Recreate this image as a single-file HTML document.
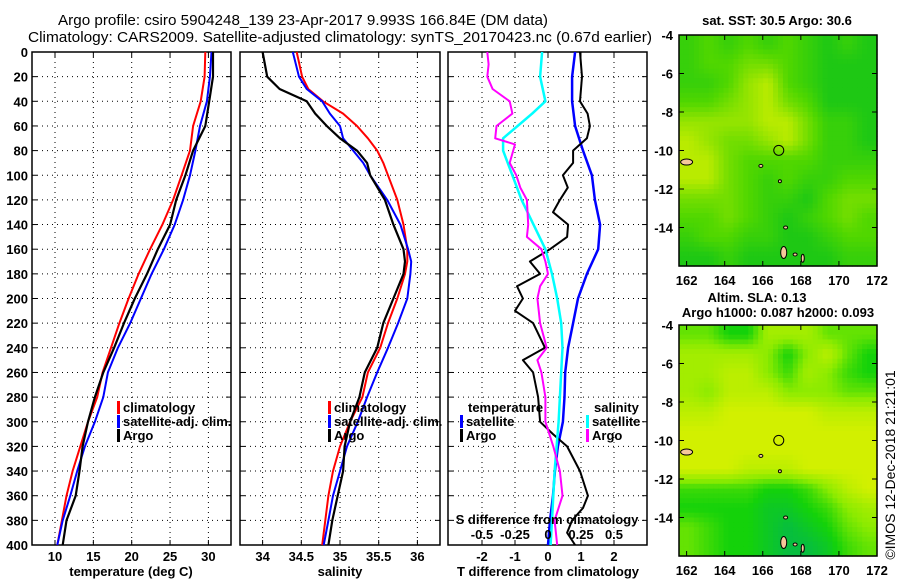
<!DOCTYPE html>
<html><head><meta charset="utf-8">
<style>
html,body{margin:0;padding:0;background:#fff;}
svg{display:block;font-family:"Liberation Sans",Arial,sans-serif;}
.t{font-size:13px;font-weight:bold;fill:#000;}
.ttl{font-size:15px;fill:#000;}
</style></head>
<body>
<svg id="fig" width="900" height="580" viewBox="0 0 900 580" xmlns="http://www.w3.org/2000/svg">
<text class="ttl" x="58" y="25" textLength="490" lengthAdjust="spacingAndGlyphs">Argo profile: csiro 5904248_139 23-Apr-2017 9.993S 166.84E (DM data)</text>
<text class="ttl" x="28" y="42" textLength="624" lengthAdjust="spacingAndGlyphs">Climatology: CARS2009. Satellite-adjusted climatology: synTS_20170423.nc (0.67d earlier)</text>
</svg>
<script>
// ---------- data ----------
const depthsA = [0,20,40,60,80,100,120,140,160,180,200,220,240,260,280,300,320,340,360,380,400];
const tempClim = [29.6,29.5,29.0,28.0,27.6,26.5,25.4,24.0,22.4,20.9,19.6,18.4,17.3,16.2,15.5,14.3,13.3,12.3,11.5,10.9,10.3];
const tempSat = [30.4,30.2,29.8,28.9,28.3,27.6,26.7,25.6,24.2,22.6,21.2,19.8,18.2,16.9,16.3,15.2,13.9,12.9,12.0,11.0,10.3];
const tempArgo = [30.6,30.6,30.1,29.6,28.0,27.0,25.8,25.0,23.4,22.0,20.4,19.0,17.7,16.3,15.2,14.3,13.6,13.2,12.7,11.5,11.0];

const depthsS = [0,20,30,40,50,60,70,80,90,100,120,140,160,170,180,200,220,240,260,280,300,320,340,360,380,400];
const salClim = [34.44,34.51,34.59,34.78,35.04,35.22,35.36,35.48,35.56,35.62,35.74,35.82,35.87,35.87,35.84,35.74,35.62,35.52,35.36,35.29,35.13,35.0,34.91,34.85,34.81,34.77];
const salSat = [34.39,34.47,34.57,34.77,34.87,35.0,35.04,35.17,35.3,35.39,35.61,35.78,35.88,35.92,35.91,35.87,35.75,35.62,35.48,35.35,35.23,35.09,35.0,34.91,34.85,34.79];
const salArgo = [34.0,34.06,34.22,34.57,34.68,34.83,35.0,35.22,35.35,35.39,35.58,35.69,35.82,35.84,35.82,35.69,35.56,35.48,35.32,35.25,35.13,35.06,35.04,34.97,34.9,34.85];

const tDiffSat = [0.82,0.73,0.73,0.82,1.06,1.33,1.42,1.58,1.52,1.18,0.91,0.76,0.61,0.52,0.5,0.45,0.3,0.21,0.15,0.06,0.0];
const depthsTA = [0,20,40,50,60,70,80,90,100,110,120,130,140,150,160,170,180,190,200,210,220,240,250,260,280,300,310,320,340,360,370,380,390,400];
const tDiffArgo = [0.97,1.03,0.97,1.2,1.27,1.18,0.76,0.76,0.45,0.6,0.36,0.15,0.61,0.58,0.06,-0.55,-0.24,-0.94,-0.76,-1.0,-0.45,-0.09,-0.76,-0.45,-0.3,-0.24,0.15,0.58,0.97,1.21,1.06,0.73,0.58,0.82];
const depthsSS = [0,20,40,50,60,70,80,100,120,140,160,180,200,220,240,260,300,340,380,400];
const sDiffSat = [-0.045,-0.06,-0.02,-0.12,-0.23,-0.34,-0.34,-0.27,-0.2,-0.11,-0.02,0.03,0.07,0.1,0.11,0.1,0.08,0.05,0.03,0.02];
const depthsSA = [0,10,20,30,40,50,60,70,75,90,100,110,120,140,150,160,170,180,190,200,220,240,250,260,280,300,320,340,360,380,400];
const sDiffArgo = [-0.46,-0.45,-0.46,-0.42,-0.29,-0.27,-0.39,-0.4,-0.25,-0.29,-0.24,-0.21,-0.16,-0.15,-0.16,-0.05,-0.02,0,-0.06,-0.08,-0.06,-0.01,-0.08,-0.05,-0.02,-0.02,0.04,0.09,0.11,0.05,0.07];

const depthTicks = [0,20,40,60,80,100,120,140,160,180,200,220,240,260,280,300,320,340,360,380,400];
const tempTicks = [10,15,20,25,30];
const salTicks = [34,34.5,35,35.5,36];
const salTickLabels = ["34","34.5","35","35.5","36"];
const tDiffTicks = [-2,-1,0,1,2];
const sDiffTicks = [-0.5,-0.25,0,0.25,0.5];
const sDiffTickLabels = ["-0.5","-0.25","0","0.25","0.5"];

const latTicks = [-4,-6,-8,-10,-12,-14];
const lonTicks = [162,164,166,168,170,172];
const sstGrid = [
[.4,.5,.4,.5,.4,.5,.4,.3,.4,.3],
[.4,.5,.5,.6,.6,.5,.4,.3,.3,.3],
[.4,.4,.5,.7,.8,.5,.4,.3,.3,.3],
[.5,.5,.6,.7,.8,.6,.5,.3,.3,.3],
[.7,.7,.7,.7,.8,.8,.6,.4,.4,.3],
[.8,.7,.6,.6,.7,.8,.6,.4,.4,.3],
[.8,.8,.6,.5,.5,.5,.5,.4,.4,.4],
[.8,.8,.6,.5,.4,.5,.4,.4,.5,.5],
[.6,.6,.6,.5,.4,.4,.3,.5,.6,.6],
[.5,.5,.6,.5,.4,.3,.4,.5,.6,.5],
[.4,.5,.5,.4,.4,.3,.3,.4,.5,.5],
[.3,.3,.4,.3,.3,.3,.3,.3,.4,.4]];
const slaGrid = [
[.5,.5,.3,.3,.7,.7,.7,.5,.5,.5],
[.7,.7,.7,.7,.6,.3,.6,.8,.5,.3],
[.7,.7,.8,.8,.6,.4,.7,.6,.4,.3],
[.7,.6,.8,.8,.8,.6,.6,.6,.5,.5],
[.8,.8,.9,.9,.9,.9,.9,.8,.8,.8],
[.9,.9,.9,.9,.9,.9,.9,.9,.9,.9],
[.9,.9,.9,.9,.9,.9,.9,.9,.9,.9],
[.9,.9,.9,.8,.8,.8,.9,.9,.9,.9],
[.4,.4,.4,.4,.3,.3,.4,.6,.8,.9],
[.3,.3,.3,.3,.2,.2,.3,.4,.6,.7],
[.5,.4,.3,.3,.2,.1,.2,.3,.5,.6],
[.5,.4,.3,.3,.2,.1,.1,.2,.4,.5]];
const argoLon = 166.84, argoLat = -9.993;

// ---------- helpers ----------
const NS = "http://www.w3.org/2000/svg";
const svg = document.getElementById('fig');
function mk(tag, attrs, parent){const e=document.createElementNS(NS,tag);for(const k in attrs)e.setAttribute(k,attrs[k]);(parent||svg).appendChild(e);return e;}
function txt(s,x,y,anchor,parent){const e=mk('text',{x:x,y:y,'text-anchor':anchor||'middle','class':'t'},parent);e.textContent=s;return e;}

const TOP=52, BOT=545;
const yD = d => TOP + d*(BOT-TOP)/400;

function panel(name, x0, x1, xs, ticks, labels, showY){
  const g = mk('g',{});
  
  
  depthTicks.forEach(d=>{
    if(d>0&&d<400){const l=mk('line',{x1:x0,x2:x1,y1:yD(d),y2:yD(d),stroke:'#000','stroke-width':1,'stroke-dasharray':'1,4'},g);
    
    }
    mk('line',{x1:x0,x2:x0+5,y1:yD(d),y2:yD(d),stroke:'#000'},g);
    mk('line',{x1:x1-5,x2:x1,y1:yD(d),y2:yD(d),stroke:'#000'},g);
    if(showY){const t=txt(String(d),28,yD(d)+5,'end',g);
      
      }
  });
  ticks.forEach((v,i)=>{
    const x=xs(v);
    const l=mk('line',{x1:x,x2:x,y1:TOP,y2:BOT,stroke:'#000','stroke-dasharray':'1,4'},g);
    
    
    mk('line',{x1:x,x2:x,y1:TOP,y2:TOP+5,stroke:'#000'},g);
    mk('line',{x1:x,x2:x,y1:BOT-5,y2:BOT,stroke:'#000'},g);
    const t=txt(labels[i],x,561,'middle',g);
    
    
  });
  const r=mk('rect',{x:x0,y:TOP,width:x1-x0,height:BOT-TOP,fill:'none',stroke:'#000','stroke-width':1.5},g);
  
  
  return g;
}
function line(vals, depths, xs, color, w, name, parent){
  const pts = vals.map((v,i)=>xs(v).toFixed(1)+','+yD(depths[i]).toFixed(1)).join(' ');
  const p=mk('polyline',{points:pts,fill:'none',stroke:color,'stroke-width':w,'stroke-linejoin':'round'},parent);
  
  
}
function legendEntry(x,y,color,label,parent){
  mk('rect',{x:x,y:y-11,width:3,height:13,fill:color},parent);
  const t=txt(label,x+6,y,'start',parent);
  
  
}

// ---------- panel 1: temperature ----------
const xT = v => 55 + (v-10)*7.67;
const p1 = panel('temperature-panel',32,231,xT,tempTicks,tempTicks.map(String),true);
line(tempClim, depthsA, xT, '#f00', 2, 'temp-climatology-line', p1);
line(tempSat, depthsA, xT, '#00f', 2, 'temp-satellite-line', p1);
line(tempArgo, depthsA, xT, '#000', 2.2, 'temp-argo-line', p1);
legendEntry(117,412,'#f00','climatology',p1);
legendEntry(117,426,'#00f','satellite-adj. clim.',p1);
legendEntry(117,440,'#000','Argo',p1);
{const t=txt('temperature (deg C)',131,576,'middle',p1);}

// ---------- panel 2: salinity ----------
const xS = v => 340 + (v-35)*77.4;
const p2 = panel('salinity-panel',240,440,xS,salTicks,salTickLabels,false);
line(salClim, depthsS, xS, '#f00', 2, 'sal-climatology-line', p2);
line(salSat, depthsS, xS, '#00f', 2, 'sal-satellite-line', p2);
line(salArgo, depthsS, xS, '#000', 2.2, 'sal-argo-line', p2);
legendEntry(328,412,'#f00','climatology',p2);
legendEntry(328,426,'#00f','satellite-adj. clim.',p2);
legendEntry(328,440,'#000','Argo',p2);
{const t=txt('salinity',340,576,'middle',p2);}

// ---------- panel 3: differences ----------
const xTD = v => 548 + v*33;
const xSD = v => 548 + v*132;
const p3 = panel('difference-panel',448,647,xTD,tDiffTicks,tDiffTicks.map(String),false);
line(tDiffSat, depthsA, xTD, '#00f', 2.5, 'tdiff-satellite-line', p3);
line(tDiffArgo, depthsTA, xTD, '#000', 2, 'tdiff-argo-line', p3);
line(sDiffSat, depthsSS, xSD, '#0ff', 2.5, 'sdiff-satellite-line', p3);
line(sDiffArgo, depthsSA, xSD, '#f0f', 2, 'sdiff-argo-line', p3);
{const t=txt('temperature',468,412,'start',p3);}
legendEntry(460,426,'#00f','satellite',p3);
legendEntry(460,440,'#000','Argo',p3);
{const t=txt('salinity',594,412,'start',p3);}
legendEntry(586,426,'#0ff','satellite',p3);
legendEntry(586,440,'#f0f','Argo',p3);
{const t=txt('S difference from climatology',547,524,'middle',p3);}
sDiffTicks.forEach((v,i)=>{const t=txt(sDiffTickLabels[i],xSD(v),539,'middle',p3);
  
  });
{const t=txt('T difference from climatology',548,576,'middle',p3);}

// ---------- maps ----------
function ramp(v, stops){
  for(let i=1;i<stops.length;i++){
    if(v<=stops[i][0]){const a=stops[i-1],b=stops[i];const f=(v-a[0])/(b[0]-a[0]);
      const c=[0,1,2].map(k=>Math.round(a[1][k]+(b[1][k]-a[1][k])*f));return 'rgb('+c.join(',')+')';}
  }
  const l=stops[stops.length-1][1];return 'rgb('+l.join(',')+')';
}
function sample(grid, fr, fc){
  // bilinear sampling of grid at fractional cell-centre coordinates (rendering only)
  const rows=grid.length, cols=grid[0].length;
  const r=Math.min(Math.max(fr-0.5,0),rows-1), c=Math.min(Math.max(fc-0.5,0),cols-1);
  const r0=Math.floor(r), c0=Math.floor(c), r1=Math.min(r0+1,rows-1), c1=Math.min(c0+1,cols-1);
  const dr=r-r0, dc=c-c0;
  return grid[r0][c0]*(1-dr)*(1-dc)+grid[r0][c1]*(1-dr)*dc+grid[r1][c0]*dr*(1-dc)+grid[r1][c1]*dr*dc;
}
const sstStops=[[0,[0,176,64]],[0.3,[30,200,20]],[0.5,[80,215,0]],[0.8,[185,235,0]],[1,[215,240,0]]];
const slaStops=[[0,[0,180,90]],[0.3,[20,210,10]],[0.6,[140,235,0]],[0.9,[210,240,0]],[1,[220,240,0]]];
function map(name, top, grid, stops, title1, title2){
  const L=679,R=877,B=top+231;
  const xl = lon => L + (lon-161.6)*(R-L)/10.4;
  const yl = lat => top + (-4-lat)*(B-top)/12;
  const g=mk('g',{});
  
  
  const rows=grid.length, cols=grid[0].length, SUB=4;
  const cw=(R-L)/(cols*SUB), ch=(B-top)/(rows*SUB);
  for(let r=0;r<rows*SUB;r++)for(let c=0;c<cols*SUB;c++){
    const v=sample(grid,(r+0.5)/SUB,(c+0.5)/SUB);
    const cell=mk('rect',{x:(L+c*cw).toFixed(2),y:(top+r*ch).toFixed(2),width:(cw+0.6).toFixed(2),height:(ch+0.6).toFixed(2),fill:ramp(v,stops)},g);
    
    
  }
  const isl=[[162.0,-10.6,6,3],[165.9,-10.8,2,1.5],[166.9,-11.6,1.5,1.5],[167.2,-14.0,2,1.5],[167.1,-15.3,3,6],[167.7,-15.4,2,1.5],[168.1,-15.6,1.5,4]];
  isl.forEach(a=>{const e=mk('ellipse',{cx:xl(a[0]),cy:yl(a[1]),rx:a[2],ry:a[3],fill:'#f5c89a',stroke:'#000','stroke-width':1},g);
    
    });
  const m=mk('circle',{cx:xl(argoLon),cy:yl(argoLat),r:5,fill:'none',stroke:'#000','stroke-width':1},g);
  
  
  mk('rect',{x:L,y:top,width:R-L,height:B-top,fill:'none',stroke:'#000','stroke-width':1.5},g);
  latTicks.forEach(v=>{const y=yl(v);mk('line',{x1:L,x2:L+5,y1:y,y2:y,stroke:'#000'},g);mk('line',{x1:R-5,x2:R,y1:y,y2:y,stroke:'#000'},g);
    const t=txt(String(v),673,y+5,'end',g);});
  lonTicks.forEach(v=>{const x=xl(v);mk('line',{x1:x,x2:x,y1:B-5,y2:B,stroke:'#000'},g);mk('line',{x1:x,x2:x,y1:top,y2:top+5,stroke:'#000'},g);
    const t=txt(String(v),x,B+19,'middle',g);});
  if(title1){const t=txt(title1.s,title1.x,title1.y,'middle',g);}
  if(title2){const t=txt(title2.s,title2.x,title2.y,'middle',g);}
}
map('sst-map',35,sstGrid,sstStops,{s:'sat. SST: 30.5 Argo: 30.6',x:777,y:25});
map('sla-map',325,slaGrid,slaStops,{s:'Altim. SLA: 0.13',x:757,y:302},{s:'Argo h1000: 0.087 h2000: 0.093',x:778,y:317});
{const t=mk('text',{x:0,y:0,'class':'t','text-anchor':'middle',transform:'translate(895,465) rotate(-90)'});
 t.style.fontWeight='normal';t.style.fontSize='14px';
 t.textContent='©IMOS 12-Dec-2018 21:21:01';
 
 }
</script>
</body></html>
